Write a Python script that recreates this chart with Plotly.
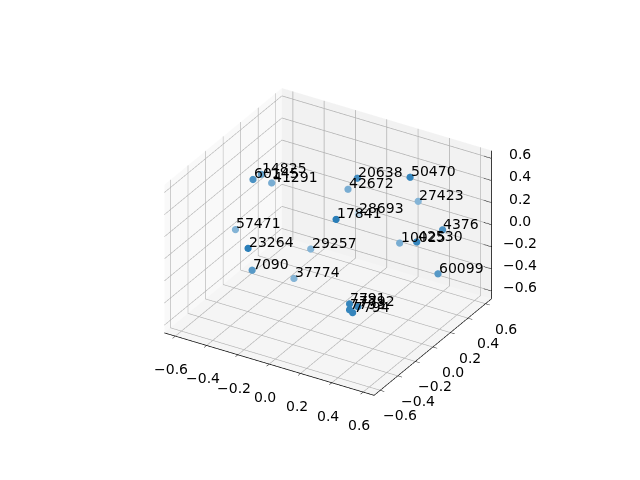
import plotly.graph_objects as go

labels = ["14825","60145","41291","57471","23264","7090","37774","29257","17841","28693",
          "42672","20638","50470","27423","4376","10025","42530","60099","7791","7792","7793","7794"]
xs = [-0.537,-0.493,-0.547,-0.558,-0.209,-0.163,-0.005,-0.094,0.071,-0.127,
      -0.153,-0.118,0.199,0.245,0.500,0.289,0.470,0.590,0.486,0.531,0.488,0.519]
ys = [0.197,0.024,0.333,-0.060,-0.539,-0.575,-0.380,-0.030,-0.035,0.571,
      0.500,0.544,0.580,0.590,0.413,0.300,0.172,0.200,-0.622,-0.608,-0.626,-0.646]
zs = [0.256,0.341,0.085,-0.085,0.205,0.050,-0.085,-0.085,0.256,-0.171,
      0.085,0.171,0.290,0.085,0.050,-0.085,0.085,-0.171,0.050,0.034,0.000,0.000]
alphas = [0.7,0.8,0.6,0.55,0.95,0.75,0.55,0.55,0.95,0.3,
          0.6,0.85,0.9,0.55,0.8,0.6,0.9,0.75,0.9,0.9,0.9,0.9]
ticks = [-0.6,-0.4,-0.2,0.0,0.2,0.4,0.6]
tick_text = ["\u22120.6","\u22120.4","\u22120.2","0.0","0.2","0.4","0.6"]
LIM = 0.67
FONT = dict(family="DejaVu Sans", size=14, color="black")

def mix(a, c=(31, 119, 180)):
    return "rgb(%d,%d,%d)" % tuple(round(a * v + (1 - a) * 255) for v in c)

fig = go.Figure(go.Scatter3d(
    x=xs, y=ys, z=zs, mode="markers",
    marker=dict(size=4.2, color=[mix(a) for a in alphas], line=dict(width=0)),
    hoverinfo="skip",
))
# z axis line and tick marks on the right-hand edge
tx, ty, tz = [LIM, LIM, None], [LIM, LIM, None], [-LIM, LIM, None]
for v in ticks:
    tx += [LIM, LIM - 0.05, None]
    ty += [LIM, LIM, None]
    tz += [v, v, None]
fig.add_trace(go.Scatter3d(
    x=tx, y=ty, z=tz, mode="lines",
    line=dict(color="black", width=1.5), hoverinfo="skip",
))

def axis(bg, ticked=True):
    return dict(
        range=[-LIM, LIM], autorange=False, tickmode="array", tickvals=ticks,
        ticktext=tick_text, tickangle=0,
        title=dict(text=""), showbackground=True, backgroundcolor=bg,
        gridcolor="rgb(176,176,176)", gridwidth=1.5, zeroline=False,
        showline=ticked, linecolor="black", linewidth=1.5,
        ticks="outside" if ticked else "", ticklen=5, tickcolor="black", tickwidth=1,
        showticklabels=False, tickfont=FONT, showspikes=False,
    )

annots = [
    dict(x=a, y=b, z=c, text=t, showarrow=False, xanchor="left", yanchor="bottom",
         xshift=0, yshift=-3, borderpad=0, font=FONT)
    for a, b, c, t in zip(xs, ys, zs, labels)
]
for v, t in zip(ticks, tick_text):
    annots.append(dict(x=LIM, y=LIM, z=v, text=t, showarrow=False, xanchor="center",
                       yanchor="middle", xshift=28, yshift=4, font=FONT))
    annots.append(dict(x=v, y=-LIM, z=-LIM, text=t, showarrow=False, xanchor="center",
                       yanchor="middle", xshift=-4, yshift=-33, font=FONT))
    annots.append(dict(x=LIM, y=v, z=-LIM, text=t, showarrow=False, xanchor="center",
                       yanchor="middle", xshift=20, yshift=-25, font=FONT))

fig.update_layout(
    width=640, height=480, margin=dict(l=0, r=0, t=0, b=0),
    paper_bgcolor="white", showlegend=False,
    scene=dict(
        xaxis=axis("rgb(249,249,249)"),
        yaxis=axis("rgb(242,242,242)"),
        zaxis=axis("rgb(245,245,245)", ticked=False),
        aspectmode="manual", aspectratio=dict(x=1.02, y=0.95, z=0.71),
        camera=dict(
            projection=dict(type="orthographic"),
            eye=dict(x=0.987, y=-1.64, z=1.06),
            center=dict(x=0, y=0, z=-0.03),
            up=dict(x=0, y=0, z=1),
        ),
        annotations=annots,
    ),
)
fig.write_html("out.html")
